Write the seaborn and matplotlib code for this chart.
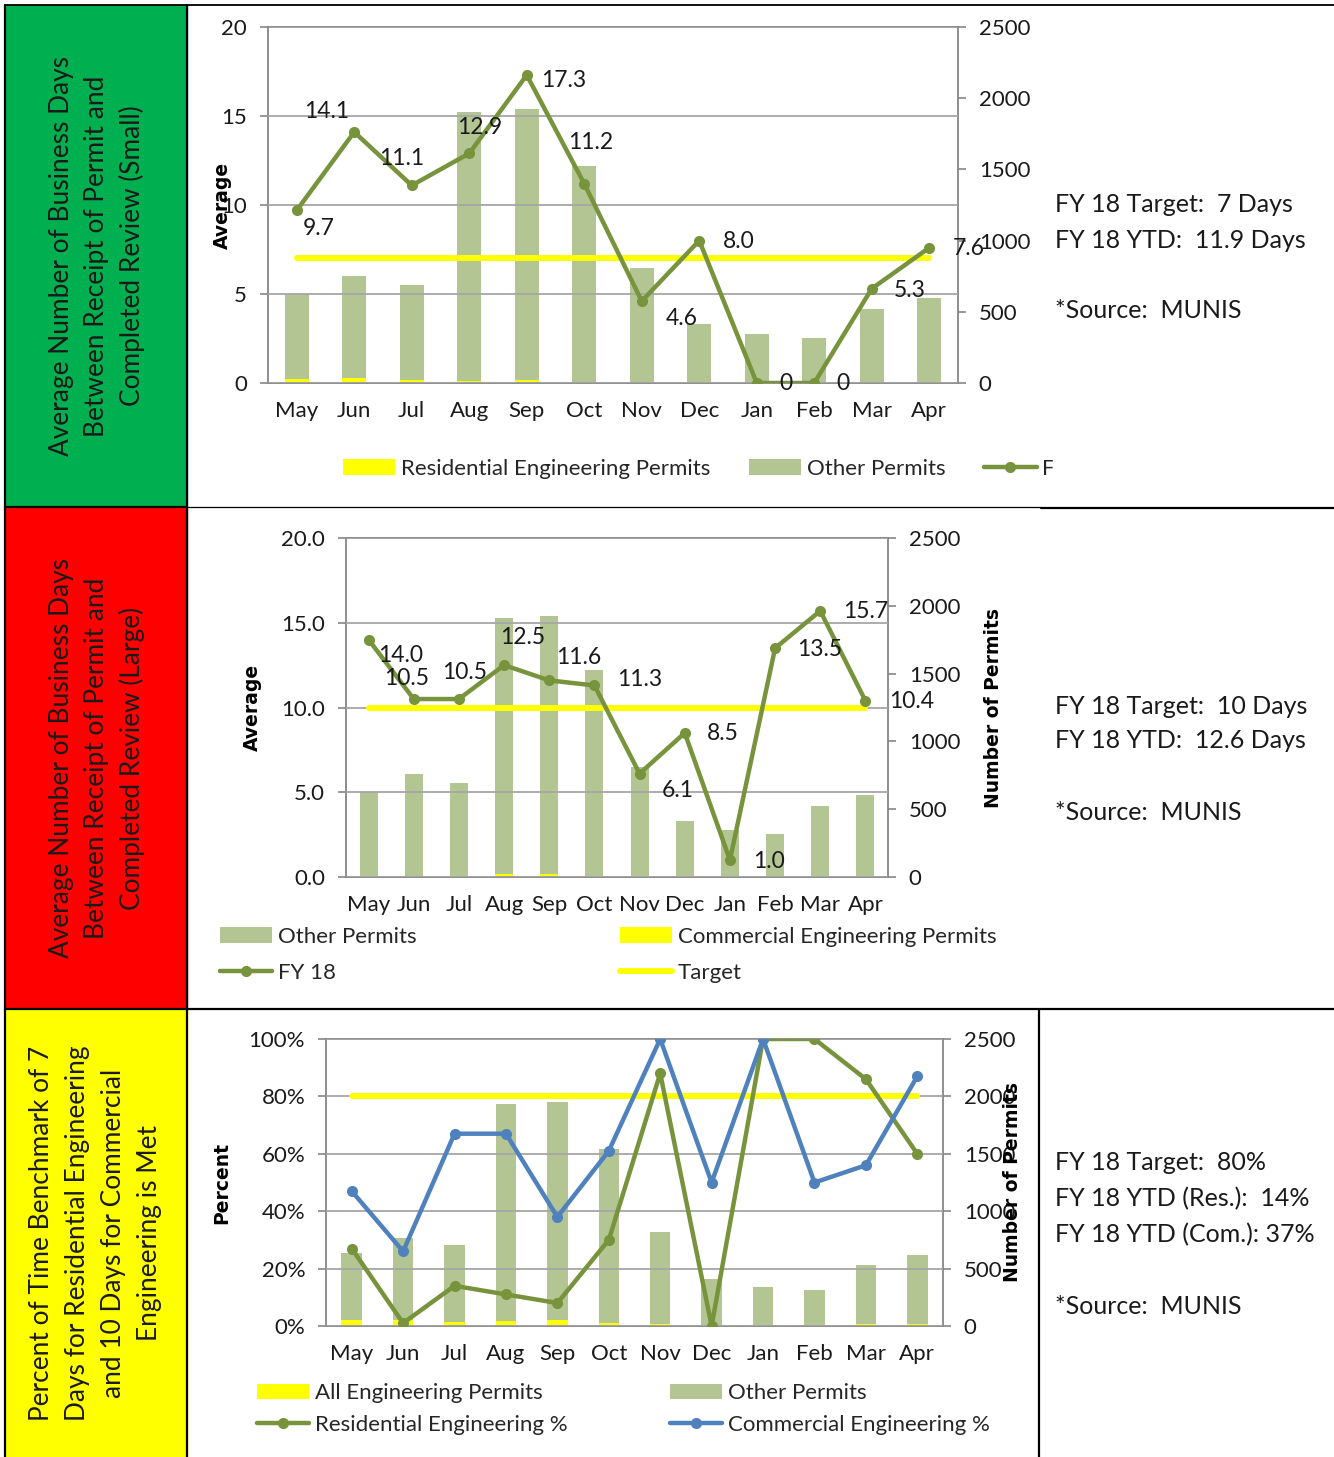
import numpy as np
import matplotlib
matplotlib.use("Agg")
import matplotlib.pyplot as plt
import seaborn as sns
from matplotlib.patches import Rectangle, Patch
from matplotlib.lines import Line2D
from matplotlib.ticker import FuncFormatter

# ---- data -------------------------------------------------------------
months = ["May", "Jun", "Jul", "Aug", "Sep", "Oct", "Nov", "Dec", "Jan", "Feb", "Mar", "Apr"]

# panel 1 - small permits
other_small = [597, 718, 669, 1889, 1903, 1519, 808, 410, 341, 313, 518, 597]
res_eng_small = [26, 33, 19, 12, 19, 5, 2, 2, 1, 1, 2, 2]
fy18_small = [9.7, 14.1, 11.1, 12.9, 17.3, 11.2, 4.6, 8.0, 0, 0, 5.3, 7.6]
target_small = 7

# panel 2 - large permits
other_large = [618, 748, 684, 1884, 1901, 1517, 809, 411, 343, 313, 519, 595]
com_eng_large = [10, 8, 8, 25, 25, 10, 4, 3, 2, 2, 3, 8]
fy18_large = [14.0, 10.5, 10.5, 12.5, 11.6, 11.3, 6.1, 8.5, 1.0, 13.5, 15.7, 10.4]
target_large = 10

# panel 3 - benchmark met
other_all = [587, 717, 669, 1885, 1898, 1516, 805, 408, 343, 317, 514, 601]
all_eng = [50, 50, 35, 45, 50, 25, 15, 5, 0, 0, 15, 15]
res_pct = [27, 1, 14, 11, 8, 30, 88, 0, 100, 100, 86, 60]
com_pct = [47, 26, 67, 67, 38, 61, 100, 50, 100, 50, 56, 87]
target_pct = 80

# ---- style ------------------------------------------------------------
sns.set_style("white")
plt.rcParams["font.family"] = ["Lato", "DejaVu Sans"]

OLIVE = "#77933c"
OLIVE_LIGHT = "#b3c592"
YELLOW = "#ffff00"
BLUE = "#4f81bd"
GRAY = "#868686"
GRID = "#a6a6a6"
TXT = "#1a1a1a"
TICK_FS = 16

W, H = 1334, 1457
fig = plt.figure(figsize=(W / 100, H / 100), dpi=100)


def fx(x):
    return x / W


def fy(y):
    return 1 - y / H


def axes_px(x0, y0, x1, y1):
    return fig.add_axes([fx(x0), fy(y1), (x1 - x0) / W, (y1 - y0) / H])


def panel(rect, other, eng, bar_w, left_max, left_step, left_fmt, target):
    ax = axes_px(*rect)
    total = np.array(other) + np.array(eng)
    sns.barplot(x=months, y=total, ax=ax, color=OLIVE_LIGHT, width=bar_w,
                saturation=1, linewidth=0)
    sns.barplot(x=months, y=eng, ax=ax, color=YELLOW, width=bar_w,
                saturation=1, linewidth=0)
    axl = ax.twinx()
    ax.yaxis.tick_right()
    axl.yaxis.tick_left()
    ax.set_ylim(0, 2500)
    ax.set_yticks(range(0, 2501, 500))
    axl.set_ylim(0, left_max)
    axl.set_yticks(np.arange(0, left_max + 0.01, left_step))
    axl.yaxis.set_major_formatter(FuncFormatter(left_fmt))
    ax.set_xlim(-0.5, len(months) - 0.5)
    ax.set_xticks(range(len(months)))
    ax.set_xticklabels(months)
    ax.set_xticks(np.arange(-0.5, len(months), 1), minor=True)
    ax.tick_params(axis="x", which="major", length=0, labelsize=TICK_FS, pad=13, labelcolor=TXT)
    ax.tick_params(axis="x", which="minor", length=7, width=1.2, color=GRAY)
    for a in (ax, axl):
        a.tick_params(axis="y", length=6, width=1.2, color=GRAY, labelsize=TICK_FS,
                      pad=9, labelcolor=TXT)
        a.set_xlabel("")
        a.set_ylabel("")
    for s in ax.spines.values():
        s.set_color(GRAY)
        s.set_linewidth(1.3)
    for s in axl.spines.values():
        s.set_visible(False)
    axl.grid(True, axis="y", color=GRID, lw=1.3)
    axl.set_axisbelow(True)
    pos = np.arange(len(months))
    sns.lineplot(x=pos, y=np.full(len(pos), target), ax=axl, color=YELLOW, linewidth=4.3)
    axl.set_xlim(-0.5, len(months) - 0.5)
    return ax, axl, pos


def add_line(axl, pos, vals, color):
    sns.lineplot(x=pos, y=vals, ax=axl, color=color, linewidth=3.2, marker="o",
                 markersize=8, markeredgecolor=color, markeredgewidth=0)


def add_labels(axl, pos, vals, offsets, fmt):
    for p, v, (dx, dy) in zip(pos, vals, offsets):
        axl.annotate(fmt(v), (p, v), xytext=(dx * 0.72, -dy * 0.72),
                     textcoords="offset points", ha="center", va="center",
                     fontsize=16.5, color=TXT)


def ylabel(a, text, xfrac, side):
    a.set_ylabel(text, fontsize=13.5, fontweight="bold", family="DejaVu Sans", color="black")
    a.yaxis.set_label_position(side)
    a.yaxis.set_label_coords(xfrac, 0.5)
    a.yaxis.label.set_verticalalignment("center")


# ---- panel 1 ----------------------------------------------------------
ax1, axl1, pos = panel((268, 27, 958, 383), other_small, res_eng_small, 0.42,
                       20, 5, lambda v, p: f"{v:.0f}", target_small)
add_line(axl1, pos, fy18_small, OLIVE)
add_labels(axl1, pos, fy18_small,
           [(22, 18), (-28, -21), (-10, -27), (10, -26), (37, 5), (6, -41),
            (40, 17), (40, 1), (29, 1), (29, 1), (38, 2), (39, 1)],
           lambda v: "0" if v == 0 else f"{v:.1f}")
ylabel(axl1, "Average", (222 - 268) / 690, "left")

# ---- panel 2 ----------------------------------------------------------
ax2, axl2, pos = panel((346, 538, 888, 877), other_large, com_eng_large, 0.4,
                       20, 5, lambda v, p: f"{v:.1f}", target_large)
add_line(axl2, pos, fy18_large, OLIVE)
add_labels(axl2, pos, fy18_large,
           [(32, 16), (-7, -21), (6, -27), (19, -28), (29, -23), (45, -6),
            (38, 17), (38, 1), (39, 1), (45, 1), (45, 1), (46, 1)],
           lambda v: f"{v:.1f}")
ylabel(axl2, "Average", (252 - 346) / 542, "left")
ylabel(ax2, "Number of Permits", (993 - 346) / 542, "right")

# ---- panel 3 ----------------------------------------------------------
ax3, axl3, pos = panel((326, 1039, 943, 1326), other_all, all_eng, 0.4,
                       100, 20, lambda v, p: f"{v:.0f}%", target_pct)
add_line(axl3, pos, res_pct, OLIVE)
add_line(axl3, pos, com_pct, BLUE)
ylabel(axl3, "Percent", (222 - 326) / 617, "left")
ylabel(ax3, "Number of Permits", (1012 - 326) / 617, "right")

# ---- legends ----------------------------------------------------------
h_res = Patch(facecolor=YELLOW, edgecolor="none")
h_oth = Patch(facecolor=OLIVE_LIGHT, edgecolor="none")
h_fy = Line2D([], [], color=OLIVE, lw=3.2, marker="o", ms=8, mew=0)
h_tgt = Line2D([], [], color=YELLOW, lw=4.3)
h_com = Line2D([], [], color=BLUE, lw=3.2, marker="o", ms=8, mew=0)

leg_kw = dict(frameon=False, fontsize=16, borderpad=0, borderaxespad=0,
              handlelength=2.35, handletextpad=0.25, loc="center left")
fig.legend([h_res, h_oth, h_fy], ["Residential Engineering Permits", "Other Permits", "FY 18"],
           ncol=3, columnspacing=1.75, bbox_to_anchor=(fx(343), fy(469)), **leg_kw)
fig.legend([h_oth, h_fy], ["Other Permits", "FY 18"], labelspacing=0.72,
           bbox_to_anchor=(fx(220), fy(955)), **leg_kw)
fig.legend([h_res, h_tgt], ["Commercial Engineering Permits", "Target"], labelspacing=0.72,
           bbox_to_anchor=(fx(620), fy(955)), **leg_kw)
fig.legend([h_res, h_fy], ["All Engineering Permits", "Residential Engineering %"],
           labelspacing=0.5, bbox_to_anchor=(fx(257), fy(1409)), **leg_kw)
fig.legend([h_oth, h_com], ["Other Permits", "Commercial Engineering %"],
           labelspacing=0.5, bbox_to_anchor=(fx(670), fy(1409)), **leg_kw)
# first legend is cut off by the cell edge in the source
fig.add_artist(Rectangle((fx(1053), fy(492)), (W - 1053) / W, 40 / H,
                         transform=fig.transFigure, color="white", zorder=10))

# ---- side text --------------------------------------------------------
side_texts = [
    [("FY 18 Target:  7 Days", 205), ("FY 18 YTD:  11.9 Days", 240), ("*Source:  MUNIS", 311)],
    [("FY 18 Target:  10 Days", 706), ("FY 18 YTD:  12.6 Days", 741), ("*Source:  MUNIS", 813)],
    [("FY 18 Target:  80%", 1163), ("FY 18 YTD (Res.):  14%", 1199),
     ("FY 18 YTD (Com.): 37%", 1235), ("*Source:  MUNIS", 1306)],
]
for block in side_texts:
    for t, y in block:
        fig.text(fx(1055), fy(y), t, fontsize=18, color=TXT, ha="left", va="center")

# ---- left coloured cells ---------------------------------------------
cells = [
    ("#00b050", 5, 507, 256, [62, 97, 132],
     ["Average Number of Business Days", "Between Receipt of Permit and",
      "Completed Review (Small)"]),
    ("#ff0000", 507, 1009, 758, [62, 97, 132],
     ["Average Number of Business Days", "Between Receipt of Permit and",
      "Completed Review (Large)"]),
    ("#ffff00", 1009, H, 1233, [42, 78, 114, 150],
     ["Percent of Time Benchmark of 7", "Days for Residential Engineering",
      "and 10 Days for Commercial", "Engineering is Met"]),
]
for color, y0, y1, yc, xs, lines in cells:
    fig.add_artist(Rectangle((fx(5), fy(y1)), (187 - 5) / W, (y1 - y0) / H,
                             transform=fig.transFigure, color=color, zorder=0))
    for x, t in zip(xs, lines):
        fig.text(fx(x), fy(yc), t, rotation=90, fontsize=18.9, color=TXT,
                 ha="center", va="center")

# ---- table borders ----------------------------------------------------
borders = [
    ((5, 5), (W, 5), 1.3),
    ((5, 5), (5, H), 1.6),
    ((187, 5), (187, H), 1.6),
    ((5, 507), (187, 507), 1.6),
    ((187, 507), (1041, 507), 0.9),
    ((1041, 508), (W, 508), 1.6),
    ((5, 1009), (W, 1009), 1.6),
    ((1039, 1009), (1039, H), 1.6),
]
for (x0, y0), (x1, y1), lw in borders:
    fig.add_artist(Line2D([fx(x0), fx(x1)], [fy(y0), fy(y1)], transform=fig.transFigure,
                          color="black", lw=lw, zorder=11))

fig.savefig("out.png", dpi=100)
